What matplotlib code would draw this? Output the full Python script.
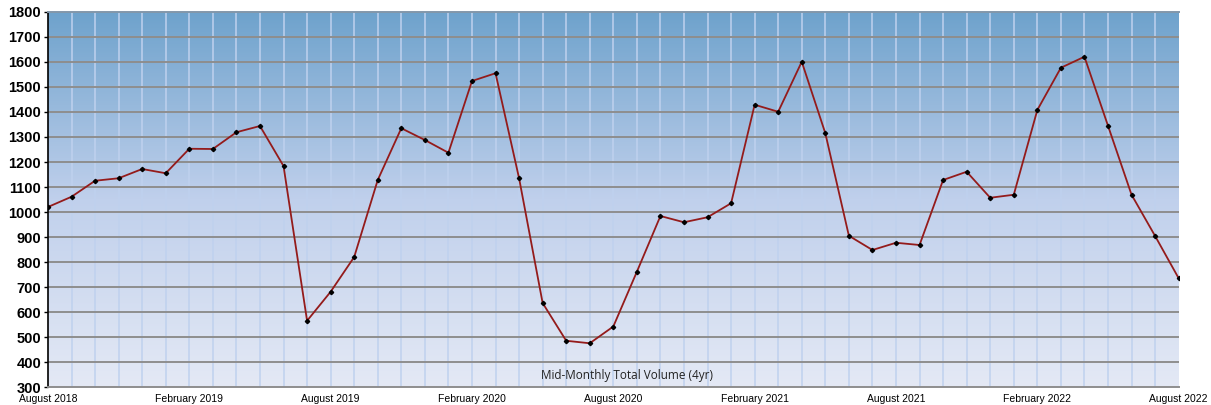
import matplotlib
matplotlib.use("Agg")
import matplotlib.pyplot as plt
import numpy as np
from matplotlib.colors import LinearSegmentedColormap

# monthly values, Aug 2018 .. Aug 2022
volume = [1020, 1061, 1125, 1135, 1172, 1155, 1253, 1252, 1319, 1344, 1184, 565,
          681, 820, 1128, 1335, 1288, 1237, 1524, 1555, 1135, 636, 485, 475,
          542, 761, 984, 959, 979, 1035, 1429, 1401, 1601, 1315, 905, 848,
          877, 868, 1128, 1161, 1057, 1069, 1408, 1577, 1621, 1345, 1069, 904,
          735]
tick_labels = ["August 2018", "February 2019", "August 2019", "February 2020",
               "August 2020", "February 2021", "August 2021", "February 2022",
               "August 2022"]
y_ticks = list(range(300, 1801, 100))
caption = "Mid-Monthly Total Volume (4yr)"

months = np.arange(len(volume))

fig = plt.figure(figsize=(12.11, 4.05), dpi=100)
ax = fig.add_axes([0.0396, 0.0444, 0.9337, 0.926])

# gradient background, dark blue at top
cmap = LinearSegmentedColormap.from_list(
    "bg", [(0.0, "#6ea2cc"), (0.5, "#c0d0ec"), (1.0, "#e4e9f5")])
grad = np.linspace(0, 1, 256).reshape(-1, 1)
ax.imshow(grad, aspect="auto", cmap=cmap, extent=[0, 48, 300, 1800],
          origin="upper", zorder=0, interpolation="bicubic")

ax.set_xlim(0, 48)
ax.set_ylim(300, 1800)

# grid
for m in months[1:-1]:
    ax.axvline(m, color="#bfd1ee", lw=1.1, zorder=1)
for v in y_ticks[1:-1]:
    ax.axhline(v, color="#8e8e8e", lw=1.4, zorder=2)

ax.plot(months, volume, color="#941b1b", lw=1.3, zorder=3,
        marker="D", markersize=2.2, markerfacecolor="black",
        markeredgecolor="black")

ax.set_yticks(y_ticks)
ax.set_yticklabels([str(v) for v in y_ticks], fontsize=10.5, fontweight="bold",
                   family="Liberation Sans")
ax.set_xticks(months[::6])
ax.set_xticklabels(tick_labels, fontsize=7.5, family="Liberation Sans")
ax.tick_params(axis="y", length=3, width=1, pad=2)
ax.tick_params(axis="x", length=0, pad=5)

ax.spines["left"].set_color("black")
ax.spines["left"].set_linewidth(1.2)
ax.spines["bottom"].set_color("#8e8e8e")
ax.spines["bottom"].set_linewidth(1.4)
ax.spines["top"].set_color("#8397aa")
ax.spines["top"].set_linewidth(1.4)
ax.spines["right"].set_visible(False)

ax.text(24.6, 348, caption, fontsize=8.5, family="Open Sans",
        ha="center", va="center", color="#222222", zorder=4)

fig.savefig("out.png", dpi=100)
